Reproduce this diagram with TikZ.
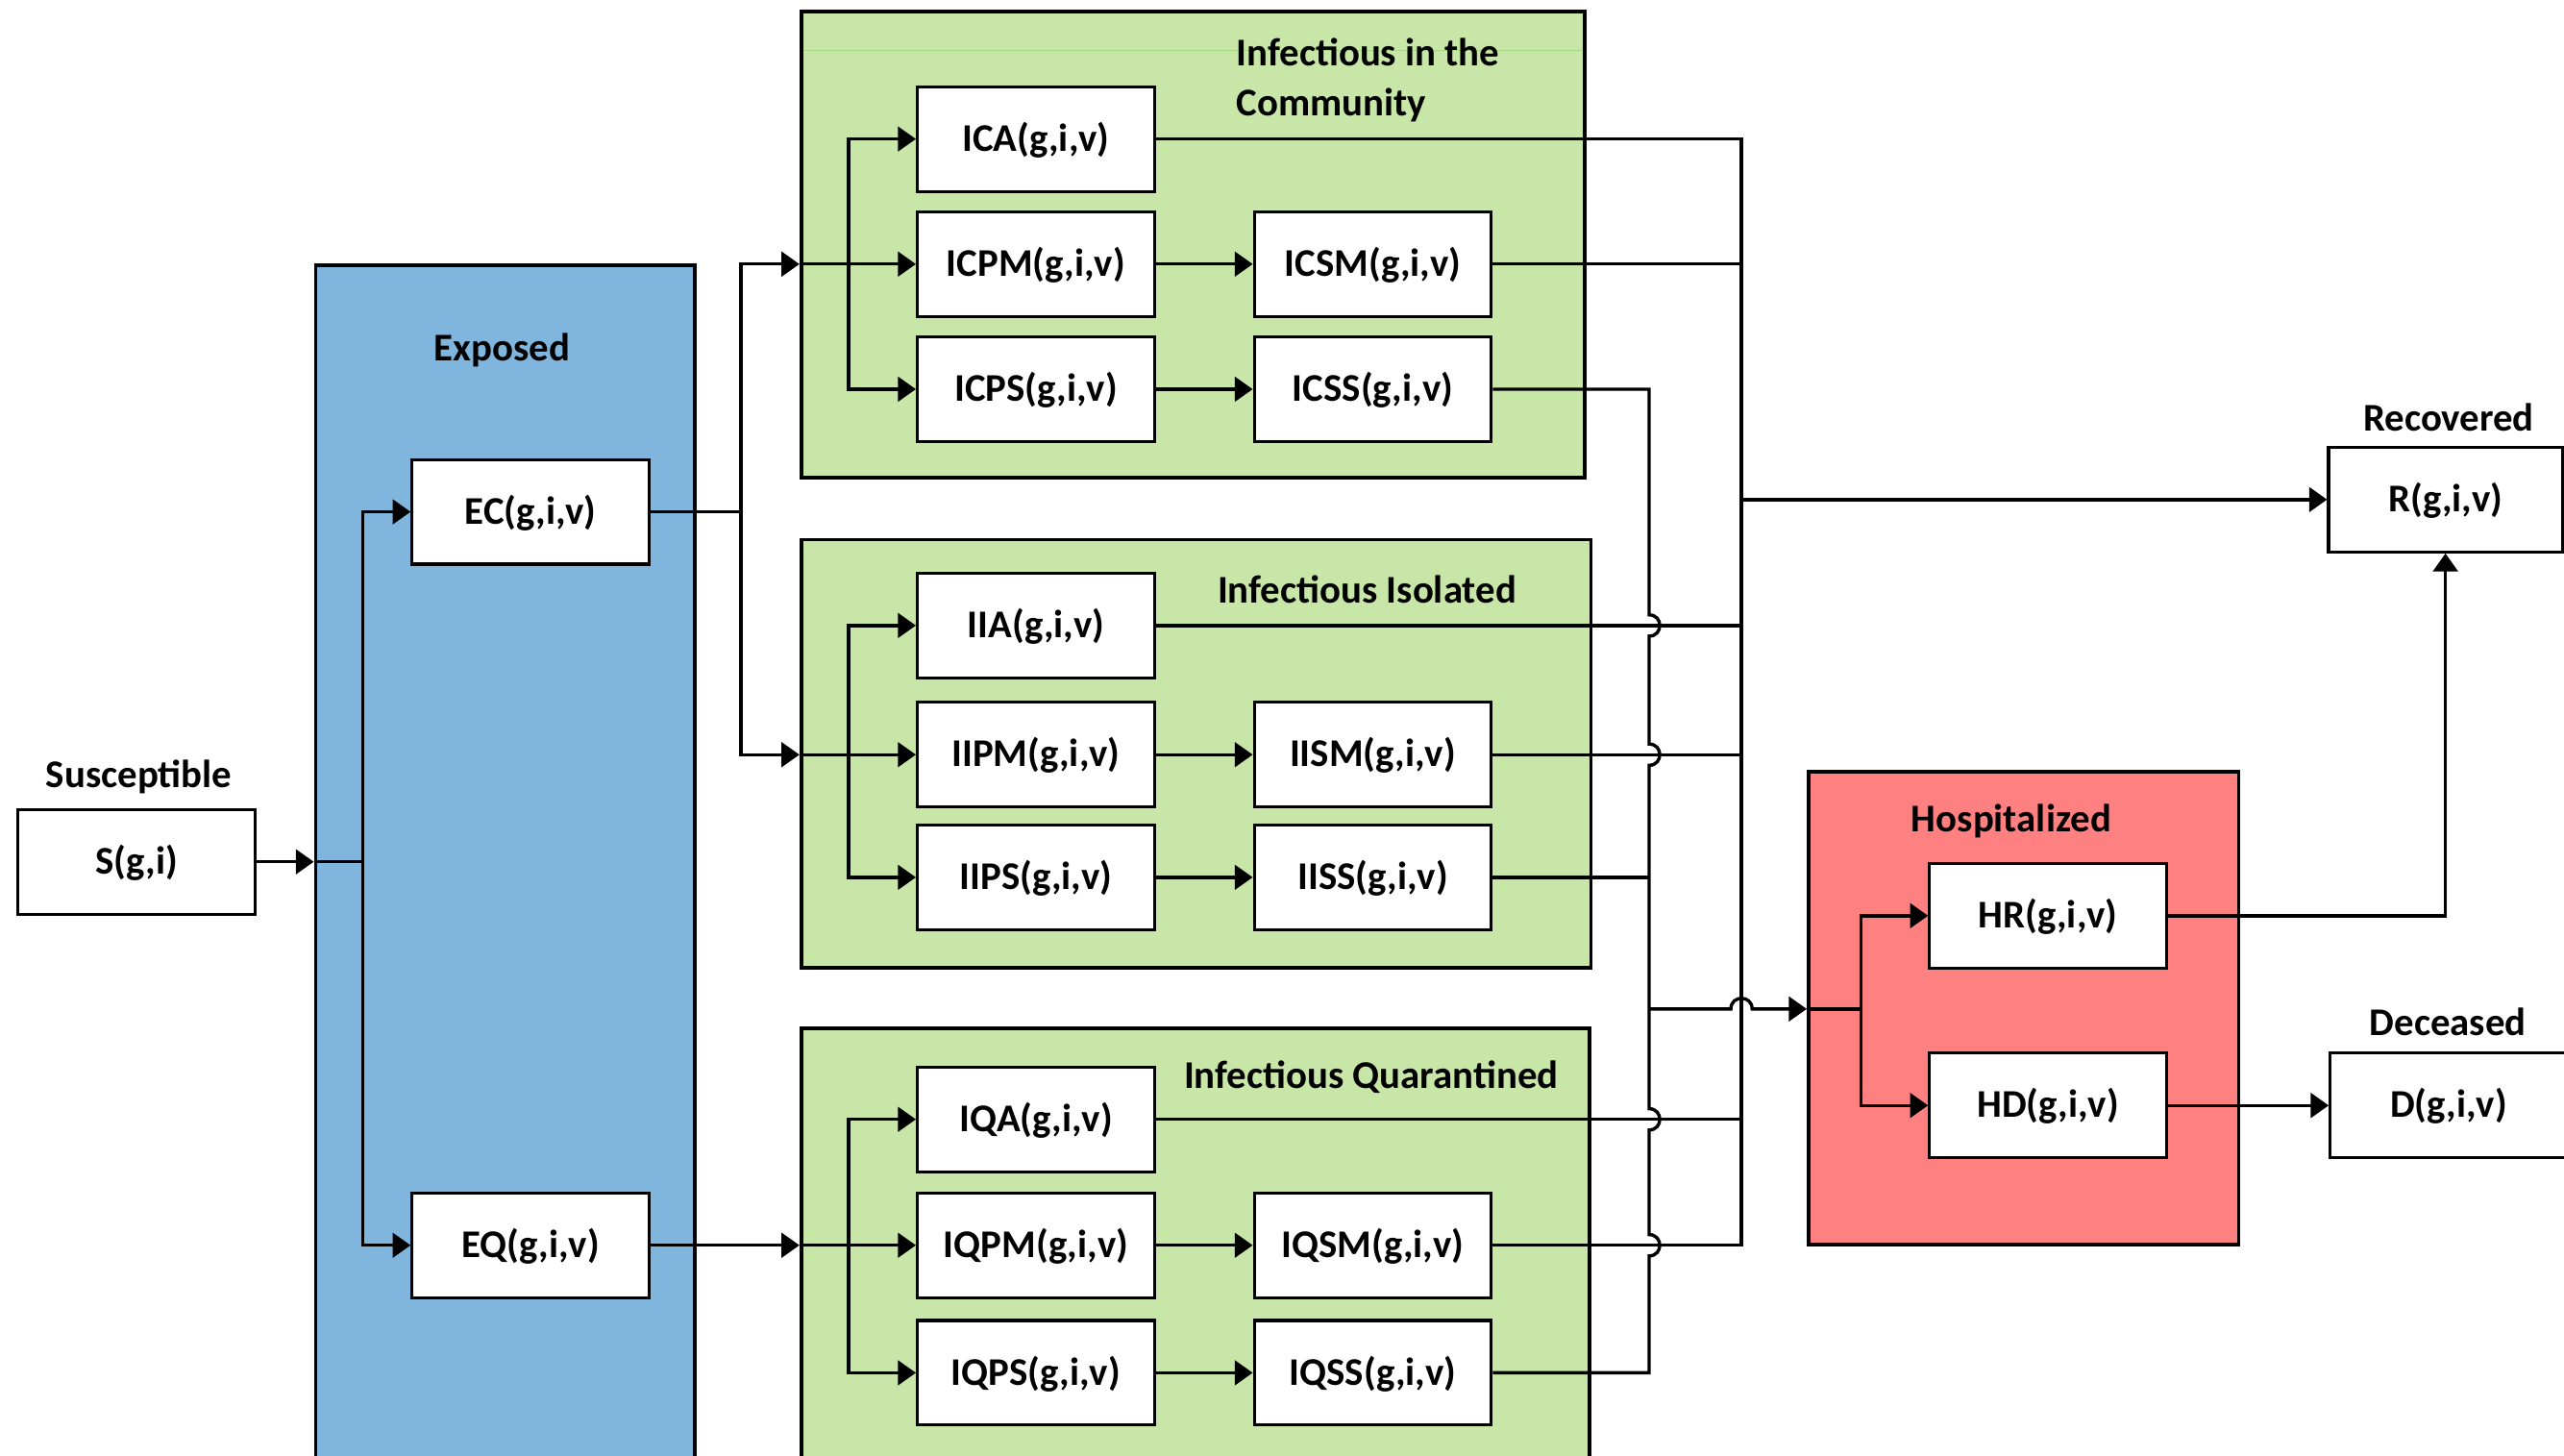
\documentclass[tikz,border=0pt]{standalone}
\usepackage{fontspec}
\setmainfont{Carlito}
\usetikzlibrary{arrows.meta}
\definecolor{expblue}{RGB}{128,181,222}
\definecolor{infgreen}{RGB}{200,230,167}
\definecolor{hospred}{RGB}{255,128,128}
\definecolor{seamgreen}{RGB}{165,216,128}
\begin{document}
\begin{tikzpicture}[x=1pt,y=-1pt,
  lbl/.style={font=\fontsize{24}{30}\selectfont\bfseries, inner sep=0pt},
  cbox/.style={lbl, draw=black, line width=1.8pt, fill=white, text depth=3pt,
               minimum width=145pt, minimum height=64pt},
  grp/.style={draw=black, line width=2.2pt, inner sep=0pt},
  conn/.style={draw=black, line width=2pt},
  arr/.style={conn, -{Triangle[length=11pt,width=15pt]}}]

% page frame
\useasboundingbox (0,0) rectangle (1568,890);
\clip (0,0) rectangle (1568,890);
\fill[white] (0,0) rectangle (1568,890);

% compartment groups
\node[grp, fill=expblue, minimum width=232pt, minimum height=745pt] (exposed) at (309,534.5) {};
\node[grp, fill=infgreen, minimum width=479pt, minimum height=285pt] (comm) at (729.5,149.5) {};
\node[grp, fill=infgreen, minimum width=483pt, minimum height=262pt] (isol) at (731.5,461) {};
\node[grp, fill=infgreen, minimum width=482pt, minimum height=280pt] (quar) at (731,769) {};
\node[grp, fill=hospred, minimum width=263pt, minimum height=289pt] (hosp) at (1237.5,616.5) {};
\draw[seamgreen, line width=0.7pt] (491.5,30.7) -- (967.8,30.7);

% group titles
\node[lbl] (susLbl) at (85,475) {Susceptible};
\node[lbl] (expLbl) at (307,214) {Exposed};
\node[lbl, anchor=west, align=left] (commLbl) at (756,49) {Infectious in the\\Community};
\node[lbl] (isolLbl) at (836,360.5) {Infectious Isolated};
\node[lbl] (quarLbl) at (838.5,658.5) {Infectious Quarantined};
\node[lbl] (hospLbl) at (1230,502) {Hospitalized};
\node[lbl] (recLbl) at (1497.5,255) {Recovered};
\node[lbl] (decLbl) at (1497,625) {Deceased};

% compartments
\node[cbox] (S) at (83.5,527) {S(g,i)};
\node[cbox] (EC) at (324.5,313) {EC(g,i,v)};
\node[cbox] (EQ) at (324.5,761.5) {EQ(g,i,v)};

\node[cbox] (ICA)  at (633.5,85)    {ICA(g,i,v)};
\node[cbox] (ICPM) at (633.5,161.5) {ICPM(g,i,v)};
\node[cbox] (ICSM) at (839.5,161.5) {ICSM(g,i,v)};
\node[cbox] (ICPS) at (633.5,238)   {ICPS(g,i,v)};
\node[cbox] (ICSS) at (839.5,238)   {ICSS(g,i,v)};

\node[cbox] (IIA)  at (633.5,382.5) {IIA(g,i,v)};
\node[cbox] (IIPM) at (633.5,461.5) {IIPM(g,i,v)};
\node[cbox] (IISM) at (839.5,461.5) {IISM(g,i,v)};
\node[cbox] (IIPS) at (633.5,536.5) {IIPS(g,i,v)};
\node[cbox] (IISS) at (839.5,536.5) {IISS(g,i,v)};

\node[cbox] (IQA)  at (633.5,684.5) {IQA(g,i,v)};
\node[cbox] (IQPM) at (633.5,761.5) {IQPM(g,i,v)};
\node[cbox] (IQSM) at (839.5,761.5) {IQSM(g,i,v)};
\node[cbox] (IQPS) at (633.5,839.5) {IQPS(g,i,v)};
\node[cbox] (IQSS) at (839.5,839.5) {IQSS(g,i,v)};

\node[cbox] (HR) at (1252.5,560) {HR(g,i,v)};
\node[cbox] (HD) at (1252.5,676) {HD(g,i,v)};
\node[cbox, minimum width=143pt] (R) at (1495.5,305.5) {R(g,i,v)};
\node[cbox] (D) at (1497.5,676) {D(g,i,v)};

% junction points
\coordinate (eBr) at (222,527);
\coordinate (cBr) at (453,313);
\coordinate (cIn) at (519,161.5);
\coordinate (iIn) at (519,461.5);
\coordinate (qIn) at (519,761.5);
\coordinate (rx)  at (1065,85);
\coordinate (hx)  at (1008.5,238);
\coordinate (hBr) at (1138,617);

% susceptible -> exposed
\draw[arr] (S.east) -- (exposed.west |- S.east);
\draw[conn] (exposed.west |- S.east) -- (eBr);
\draw[arr] (eBr) |- (EC.west);
\draw[arr] (eBr) |- (EQ.west);

% exposed -> infectious groups
\draw[conn] (EC.east) -- (cBr);
\draw[arr] (cBr) |- (comm.west |- ICPM.west);
\draw[arr] (cBr) |- (isol.west |- IIPM.west);
\draw[arr] (EQ.east) -- (quar.west |- IQPM.west);

\draw[arr] (comm.west |- ICPM.west) -- (ICPM.west);
\draw[arr] (cIn) |- (ICA.west);
\draw[arr] (cIn) |- (ICPS.west);
\draw[arr] (isol.west |- IIPM.west) -- (IIPM.west);
\draw[arr] (iIn) |- (IIA.west);
\draw[arr] (iIn) |- (IIPS.west);
\draw[arr] (quar.west |- IQPM.west) -- (IQPM.west);
\draw[arr] (qIn) |- (IQA.west);
\draw[arr] (qIn) |- (IQPS.west);

% pre-symptomatic -> symptomatic
\draw[arr] (ICPM.east) -- (ICSM.west);
\draw[arr] (ICPS.east) -- (ICSS.west);
\draw[arr] (IIPM.east) -- (IISM.west);
\draw[arr] (IIPS.east) -- (IISS.west);
\draw[arr] (IQPM.east) -- (IQSM.west);
\draw[arr] (IQPS.east) -- (IQSS.west);

% recovery collector
\draw[conn] (ICA.east) -- (rx) -- (rx |- IQSM.east) -- (IQSM.east);
\draw[conn] (ICSM.east) -- (rx |- ICSM.east);
\draw[conn] (IIA.east) -- (rx |- IIA.east);
\draw[conn] (IISM.east) -- (rx |- IISM.east);
\draw[conn] (IQA.east) -- (rx |- IQA.east);
\draw[arr] (rx |- R.west) -- (R.west);

% hospital collector, hopping over the crossing lines
\draw[conn] (ICSS.east) -- (hx)
  -- (1008.5,376) .. controls (1017.2,376) and (1017.2,389) .. (1008.5,389)
  -- (1008.5,455) .. controls (1017.2,455) and (1017.2,468) .. (1008.5,468)
  -- (1008.5,678) .. controls (1017.2,678) and (1017.2,691) .. (1008.5,691)
  -- (1008.5,755) .. controls (1017.2,755) and (1017.2,768) .. (1008.5,768)
  -- (hx |- IQSS.east) -- (IQSS.east);
\draw[conn] (IISS.east) -- (hx |- IISS.east);
\draw[arr] (hx |- hBr) -- (1058.5,617)
  .. controls (1058.5,608.3) and (1071.5,608.3) .. (1071.5,617)
  -- (hosp.west |- hBr);
\draw[conn] (hosp.west |- hBr) -- (hBr);
\draw[arr] (hBr) |- (HR.west);
\draw[arr] (hBr) |- (HD.west);

% hospital outcomes
\draw[arr] (HR.east) -| (R.south);
\draw[arr] (HD.east) -- (D.west);
\end{tikzpicture}
\end{document}
